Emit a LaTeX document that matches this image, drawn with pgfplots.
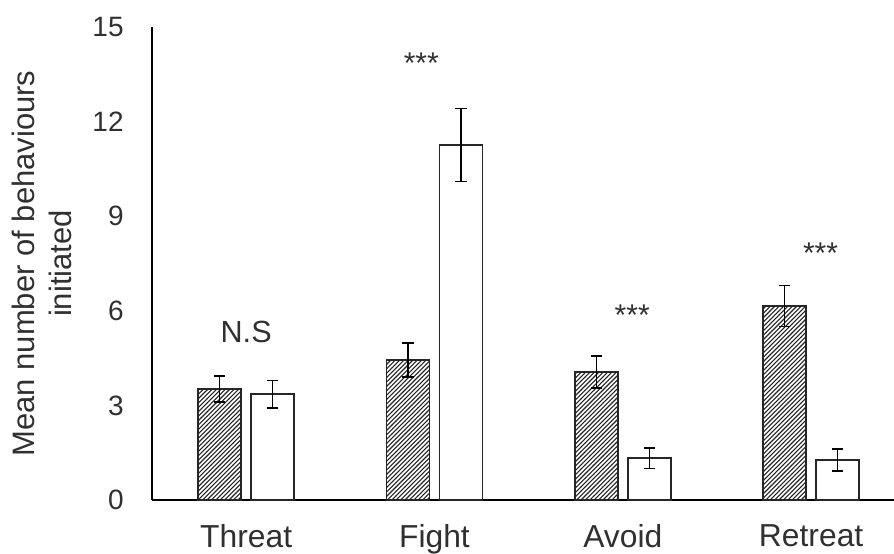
\documentclass[border=0pt]{standalone}
\usepackage{fontspec}
\setmainfont{Liberation Sans}
\usepackage{pgfplots}
\pgfplotsset{compat=1.18}
\usetikzlibrary{patterns}
\pgfdeclarepatternformonly{myhatch}{\pgfqpoint{-1pt}{-1pt}}{\pgfqpoint{3.2pt}{3.2pt}}{\pgfqpoint{2.2pt}{2.2pt}}{
  \pgfsetlinewidth{0.55pt}
  \pgfpathmoveto{\pgfqpoint{0pt}{0pt}}
  \pgfpathlineto{\pgfqpoint{2.3pt}{2.3pt}}
  \pgfusepath{stroke}
}
\definecolor{txt}{HTML}{303030}
\pgfplotstableread{
x y e
0 3.52 0.41
1 4.44 0.54
2 4.06 0.51
3 6.15 0.65
}\hatched
\pgfplotstableread{
x y e
0 3.36 0.44
1 11.26 1.15
2 1.33 0.32
3 1.27 0.35
}\white
\begin{document}
\begin{tikzpicture}
\useasboundingbox (-76pt,-26.5pt) rectangle (371pt,250pt);
\begin{axis}[
  at={(0,0)}, anchor=south west,
  scale only axis, width=371pt, height=236.5pt,
  xmin=-0.5, xmax=3.44, ymin=0, ymax=15,
  axis lines*=left, axis line style={-, line width=0.6pt, black},
  ytick={0,3,...,15}, xtick={0,1,2,3}, xticklabels={Threat,Fight,Avoid,Retreat},
  major tick length=0pt,
  tick style={draw=none},
  /pgf/number format/assume math mode=true,
  yticklabel style={font=\fontsize{14}{16}\selectfont, text=txt, inner sep=0pt, xshift=-14pt},
  xticklabel style={font=\fontsize{15.9}{18}\selectfont, text=txt, inner sep=0pt, yshift=-12pt},
  ylabel={Mean number  of behaviours\\initiated},
  every axis y label/.style={at={(axis description cs:0,0.5)}, rotate=90, anchor=south, inner sep=0pt, yshift=40pt, align=center, text=txt, font=\fontsize{15.5}{18.5}\selectfont},
  ybar, bar width=21.5pt,
  clip=false,
  error bars/error bar style={line width=0.65pt, black},
  error bars/error mark options={rotate=90, mark size=2.8pt, line width=0.65pt, black},
]
\addplot[bar shift=-13.25pt, draw=black!85, line width=0.75pt, pattern=myhatch, pattern color=black!85,
  error bars/.cd, y dir=both, y explicit] table[x=x, y=y, y error=e] {\hatched};
\addplot[bar shift=13.25pt, draw=black!85, line width=0.75pt, fill=white,
  error bars/.cd, y dir=both, y explicit] table[x=x, y=y, y error=e] {\white};
\node[font=\fontsize{15.3}{18}\selectfont, text=txt] at (axis cs:0,5.33) {N.S};
\node[font=\fontsize{15}{18}\selectfont, text=txt] at (axis cs:0.93,13.85) {***};
\node[font=\fontsize{15}{18}\selectfont, text=txt] at (axis cs:2.05,5.86) {***};
\node[font=\fontsize{15}{18}\selectfont, text=txt] at (axis cs:3.05,7.82) {***};
\end{axis}
\end{tikzpicture}
\end{document}
